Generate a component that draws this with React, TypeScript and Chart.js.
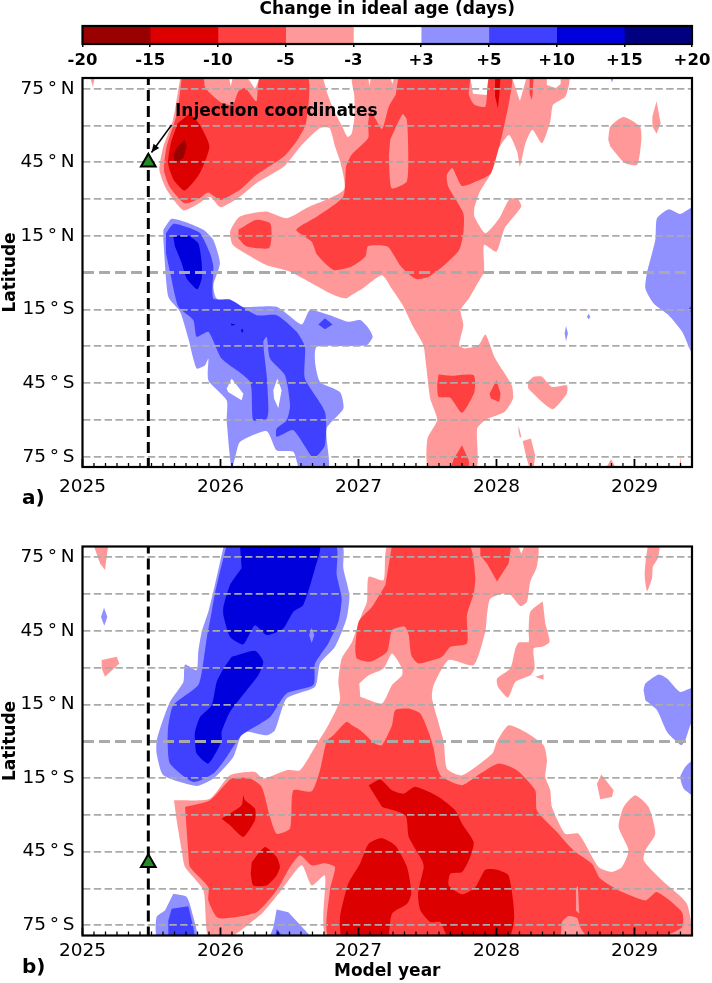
import React, { useEffect, useRef } from "react";
import { Chart, registerables } from "chart.js";

Chart.register(...registerables);

type P = [number, number];
const FONT = "'DejaVu Sans'";

const cbLabels = ["-20", "-15", "-10", "-5", "-3", "+3", "+5", "+10", "+15", "+20"];
const cbColors = ["#990000", "#dd0000", "#ff4040", "#ff9999", "#ffffff", "#9090ff", "#4040ff", "#0000dd", "#000080"];
const yearTicks = [2025, 2026, 2027, 2028, 2029];
const latTicks = [-75, -60, -45, -30, -15, 0, 15, 30, 45, 60, 75];
const latLabels: Record<string, string> = {
  "75": "75\u2009°\u2009N", "45": "45\u2009°\u2009N", "15": "15\u2009°\u2009N",
  "-15": "15\u2009°\u2009S", "-45": "45\u2009°\u2009S", "-75": "75\u2009°\u2009S",
};
const injectionYear = 2025.477;
const injectionLatA = 45;
const injectionLatB = -49.5;

const PINK = "#ff9999", R2 = "#ff4040", R3 = "#dd0000", R4 = "#990000";
const B1 = "#9090ff", B2 = "#4040ff", B3 = "#0000dd", WHITE = "#ffffff";

// ---------- panel a ----------
const aPinkMain: P[] = [[2025.71,80],[2025.67,66.4],[2025.646,60.3],[2025.586,51.5],[2025.557,42],[2025.61,33.8],[2025.731,25.4],[2025.827,27.7],[2025.924,31],[2026.0,26.7],[2026.14,31],[2026.26,36.5],[2026.46,43.3],[2026.58,51.5],[2026.72,59],[2026.79,59],[2026.83,51.5],[2026.87,44.7],[2026.895,33.8],[2026.62,26.3],[2026.48,22.2],[2026.33,25],[2026.14,22.9],[2026.07,16.8],[2026.09,11.3],[2026.24,5.9],[2026.33,3.2],[2026.5,0.5],[2026.82,-9.1],[2026.91,-10.5],[2026.95,-9.1],[2027.03,-6.4],[2027.17,-1],[2027.24,-6.4],[2027.32,-13.2],[2027.39,-21.4],[2027.47,-29.5],[2027.49,-37.7],[2027.52,-51.3],[2027.57,-60],[2027.5,-67.6],[2027.51,-80],[2027.85,-80],[2027.86,-63.5],[2027.92,-60],[2028.06,-56.7],[2028.12,-51.3],[2028.11,-45.8],[2027.99,-34.9],[2027.92,-25.2],[2027.87,-29.5],[2027.77,-30.9],[2027.73,-29.5],[2027.76,-21.4],[2027.74,-15.2],[2027.8,-10.5],[2027.87,-3.7],[2027.91,0.4],[2027.91,11.4],[2028.0,8.6],[2028.06,18.2],[2028.18,27],[2028.15,30.4],[2028.09,29.7],[2028.02,22.2],[2027.92,16.1],[2027.84,22.9],[2027.84,26.3],[2027.88,33.1],[2027.96,40.6],[2027.99,48.1],[2028.09,56.2],[2028.15,49.4],[2028.17,43.3],[2028.21,52.8],[2028.26,58.3],[2028.33,52.8],[2028.39,61.7],[2028.41,68.5],[2028.5,71.9],[2028.52,80],[2026.96,80],[2026.97,72.2],[2026.97,62.8],[2026.95,56.7],[2026.92,55.4],[2026.88,59.9],[2026.83,65.2],[2026.78,72.2],[2026.74,80]];
const aPinkCorner: P[] = [[2025.055,80],[2025.075,75.7],[2025.09,80]];
const aPinkBlob: P[] = [[2028.81,54.2],[2028.825,59.6],[2028.92,63.5],[2029.04,59.6],[2029.05,54.2],[2029.02,44],[2028.93,44.7],[2028.825,51.5]];
const aPinkSliver: P[] = [[2029.16,69.9],[2029.19,61],[2029.16,56.7],[2029.13,59.6],[2029.13,63.7]];
const aPinkSouth: P[] = [[2028.226,-44.5],[2028.27,-42.4],[2028.33,-42.4],[2028.4,-46.5],[2028.51,-45.9],[2028.51,-49.3],[2028.41,-55.6],[2028.33,-52.7],[2028.23,-47.2]];
const aPinkDrop: P[] = [[2028.16,-62.2],[2028.18,-66.9],[2028.17,-67.3],[2028.16,-64.9]];
const aPinkStrip: P[] = [[2028.19,-68.6],[2028.25,-67.6],[2028.28,-74.4],[2028.27,-80],[2028.24,-80],[2028.21,-73.7]];
const aPinkFoot1: P[] = [[2028.79,-80],[2028.83,-76],[2028.87,-80]];
const aPinkFoot2: P[] = [[2029.33,-75],[2029.345,-80],[2029.33,-80]];
const aWhite1: P[] = [[2026.19,80],[2026.25,75],[2026.29,80]];
const aWhite2: P[] = [[2027.81,80],[2027.83,73],[2027.93,72.5],[2027.945,80]];
const aWhite3: P[] = [[2028.11,80],[2028.17,70],[2028.22,80]];
const aWhite4: P[] = [[2028.365,80],[2028.365,76.5],[2028.43,75.3],[2028.465,77],[2028.465,80]];
const aWhite5: P[] = [[2026.06,80],[2026.075,76],[2026.09,80]];
const aWhite6: P[] = [[2027.07,80],[2027.08,76],[2027.09,80]];
const aWhite7: P[] = [[2027.23,80],[2027.245,77],[2027.26,80]];

const aRedBlob: P[] = [[2025.72,80],[2025.69,66.4],[2025.66,60.3],[2025.61,51.5],[2025.59,42],[2025.63,35.2],[2025.74,28.3],[2025.85,30.4],[2025.91,32.7],[2026.0,29.7],[2026.14,33.8],[2026.26,39.9],[2026.46,47.4],[2026.55,53.5],[2026.62,61],[2026.63,80],[2026.29,80],[2026.26,69.9],[2026.18,75.3],[2026.13,74],[2026.09,68.5],[2026.01,69.2],[2025.89,75.3],[2025.88,80]];
const aRedMain: P[] = [[2027.29,80],[2027.8,80],[2027.8,72.6],[2027.84,68.5],[2027.92,67.8],[2027.95,80],[2028.11,80],[2028.09,69.2],[2028.06,61],[2028.02,51.5],[2027.96,40.6],[2027.88,37.9],[2027.75,35.4],[2027.68,42.7],[2027.64,39.9],[2027.65,35.2],[2027.76,24.3],[2027.76,16.1],[2027.73,9.3],[2027.61,2.5],[2027.51,-1.6],[2027.42,-2.6],[2027.36,-0.3],[2027.3,3.1],[2027.27,5.9],[2027.21,10.7],[2027.07,10.9],[2027.05,6.6],[2026.95,2.5],[2026.82,1.1],[2026.7,7.3],[2026.66,12.7],[2026.55,17.5],[2026.7,22.9],[2026.89,31.1],[2026.91,43.3],[2026.95,48.1],[2027.07,54.9],[2027.07,61],[2027.09,65.8],[2027.17,58.6],[2027.22,67.8],[2027.27,72.6]];
const aRedLobe: P[] = [[2026.13,17.5],[2026.26,21.6],[2026.36,20.2],[2026.37,14.7],[2026.35,10],[2026.19,10.7],[2026.13,14]];
const aRedSliver: P[] = [[2028.24,80],[2028.27,80],[2028.26,72],[2028.255,70.5],[2028.24,73]];
const aRedSouth1: P[] = [[2027.58,-41.5],[2027.68,-42],[2027.835,-41.8],[2027.84,-48.6],[2027.75,-57.1],[2027.665,-51],[2027.58,-50.6],[2027.57,-45.9]];
const aRedSouth2: P[] = [[2028.0,-43.8],[2028.03,-49.3],[2028.02,-52.7],[2027.96,-51.3],[2027.95,-49.3]];
const aRedBottom: P[] = [[2027.75,-70.3],[2027.8,-76.5],[2027.8,-80],[2027.665,-80],[2027.69,-75.9]];
const aPinkIsland: P[] = [[2027.23,54.2],[2027.32,64.7],[2027.35,62.4],[2027.36,51.5],[2027.35,37.2],[2027.24,34.5],[2027.22,47.4]];
const aDarkBlob: P[] = [[2025.78,65],[2025.85,60.3],[2025.92,51.5],[2025.85,40.6],[2025.74,33.5],[2025.66,37.9],[2025.62,44.7],[2025.64,52.8],[2025.69,61]];
const aDarkColumn: P[] = [[2027.99,80],[2028.03,80],[2028.02,72],[2028.01,67],[2027.99,72]];
const aDeepBlob: P[] = [[2025.74,54.2],[2025.755,51.5],[2025.73,46.7],[2025.67,44.7],[2025.66,48],[2025.68,50.8]];

const aBlueMain: P[] = [[2025.586,17.5],[2025.646,22],[2025.755,20.5],[2025.876,17.5],[2025.948,13.4],[2025.996,3.9],[2025.948,-5],[2025.972,-10.5],[2026.153,-13.9],[2026.407,-13.9],[2026.588,-21.1],[2026.649,-15.2],[2026.793,-17.3],[2026.926,-20],[2027.013,-19.3],[2027.074,-22.7],[2027.103,-26.1],[2027.062,-29.5],[2026.953,-29.9],[2026.697,-30.2],[2026.685,-36.3],[2026.721,-44.5],[2026.866,-48.6],[2026.89,-55.4],[2026.769,-63.5],[2026.781,-80],[2026.576,-80],[2026.528,-73],[2026.407,-72.4],[2026.335,-64.6],[2026.141,-69],[2026.11,-74.4],[2026.081,-80],[2026.045,-60.1],[2026.045,-52],[2025.912,-43.8],[2025.912,-35],[2025.888,-37.7],[2025.827,-39],[2025.767,-26.8],[2025.707,-15.9],[2025.622,-9.8],[2025.586,13.4]];
const aBlueHole1: P[] = [[2026.045,-47.2],[2026.081,-43.1],[2026.166,-49.3],[2026.153,-52],[2026.055,-48.6]];
const aBlueHole2: P[] = [[2026.383,-47.9],[2026.412,-43.1],[2026.443,-47.9],[2026.419,-55.1],[2026.388,-51.3]];
const aBlueMid: P[] = [[2025.605,16.1],[2025.658,19.9],[2025.755,18.6],[2025.852,16.1],[2025.924,7.9],[2025.948,2.5],[2025.948,-10.5],[2026.069,-10.9],[2026.262,-17.3],[2026.407,-17.3],[2026.552,-24.1],[2026.612,-30.2],[2026.612,-43.1],[2026.757,-56.7],[2026.757,-70.3],[2026.673,-75.4],[2026.528,-64.2],[2026.407,-66.9],[2026.407,-63.5],[2026.48,-60.1],[2026.504,-54],[2026.467,-41.8],[2026.359,-35],[2026.335,-26.1],[2026.31,-28.2],[2026.335,-41.8],[2026.347,-55.4],[2026.335,-59.5],[2026.238,-60.1],[2026.214,-44.5],[2026.008,-35],[2025.912,-24.1],[2025.827,-26.1],[2025.803,-19.3],[2025.695,-13.9],[2025.634,0.4],[2025.605,7.9]];
const aBlueDiamond: P[] = [[2026.709,-21.1],[2026.757,-18.6],[2026.812,-21.1],[2026.757,-23]];
const aBlueCore: P[] = [[2025.658,14.7],[2025.755,15.4],[2025.839,12],[2025.864,3.9],[2025.864,-2.3],[2025.832,-6.7],[2025.755,-2.3],[2025.719,3.9],[2025.67,10.7]];
const aBlueDot1: P[] = [[2026.075,-20.7],[2026.11,-21.1],[2026.08,-21.6]];
const aBlueDot2: P[] = [[2026.157,-22.7],[2026.166,-23.7],[2026.157,-24.5],[2026.148,-23.7]];
const aBlueEast: P[] = [[2029.45,26.7],[2029.417,26.7],[2029.332,24],[2029.248,25.9],[2029.163,22.2],[2029.151,13.4],[2029.091,0],[2029.079,-6.4],[2029.139,-12.5],[2029.248,-17.3],[2029.345,-24],[2029.417,-32.9],[2029.45,-32.9]];
const aBlueEastCore: P[] = [[2029.45,-11.2],[2029.39,-15],[2029.45,-18]];
const aBlueTiny1: P[] = [[2028.668,-16.6],[2028.656,-18],[2028.668,-19],[2028.68,-18]];
const aBlueTiny2: P[] = [[2028.504,-21.6],[2028.494,-24.8],[2028.504,-27.9],[2028.518,-24.8]];
const aBlueTop: P[] = [[2028.825,80],[2028.837,77.6],[2028.854,80]];

// ---------- panel b ----------
const bPinkMain: P[] = [[2025.663,-24.1],[2025.924,-23.4],[2026.069,-13.9],[2026.25,-12.5],[2026.31,-15.2],[2026.479,-11.8],[2026.576,-11.8],[2026.685,-2.3],[2026.781,6.5],[2026.866,16.7],[2026.854,24.2],[2026.878,33.7],[2026.953,40.5],[2027.026,52.1],[2027.062,56.9],[2027.074,67.1],[2027.182,65.7],[2027.219,80],[2028.293,80],[2028.293,71.2],[2028.245,65],[2028.221,56.9],[2028.173,55.1],[2028.088,60.3],[2027.956,58.2],[2027.931,51.4],[2027.919,44.6],[2027.835,31],[2027.654,33.1],[2027.545,22.9],[2027.533,17.4],[2027.617,0],[2027.641,-11.2],[2027.751,-13.9],[2027.97,-5],[2028.004,0],[2028.088,6.5],[2028.209,3.8],[2028.342,-1.6],[2028.366,-7.8],[2028.354,-14.6],[2028.39,-20],[2028.402,-26.8],[2028.498,-37.7],[2028.595,-37.7],[2028.74,-51.3],[2028.837,-53.3],[2028.909,-51.3],[2028.957,-44.5],[2028.885,-35],[2028.921,-26.8],[2029.006,-22],[2029.103,-26.8],[2029.151,-37.7],[2029.079,-44.5],[2029.067,-48.6],[2029.199,-56.7],[2029.38,-66.3],[2029.392,-80],[2026.781,-80],[2026.757,-54.7],[2026.661,-58.8],[2026.588,-50.6],[2026.431,-61.5],[2026.31,-69.7],[2026.238,-73.1],[2026.069,-80],[2025.912,-80],[2025.876,-60.8],[2025.743,-51.3],[2025.719,-44.5],[2025.682,-32.2]];
const bWhitePocket: P[] = [[2027.006,23.5],[2027.074,26.9],[2027.182,29.7],[2027.243,35.8],[2027.316,29.7],[2027.316,26.9],[2027.243,22.9],[2027.17,15.4],[2027.013,18.1]];
const bWhiteNotch: P[] = [[2028.155,80],[2028.18,76.5],[2028.205,80]];
const bPinkEast: P[] = [[2028.335,57.1],[2028.245,52.8],[2028.233,44.6],[2028.233,40.5],[2028.161,40.3],[2028.137,37.8],[2028.1,29.7],[2028.004,25.6],[2028.011,22.2],[2028.083,17.8],[2028.137,24.2],[2028.245,26.9],[2028.277,29.7],[2028.269,37.8],[2028.33,38.5],[2028.385,40.5],[2028.354,48]];
const bPinkTiny: P[] = [[2028.281,26.3],[2028.341,27.3],[2028.341,25.1]];
const bPinkTop: P[] = [[2029.098,80],[2029.18,80],[2029.17,74.6],[2029.134,71.2],[2029.127,66.4],[2029.091,61.2],[2029.074,67.7],[2029.083,74.6]];
const bPinkCorner: P[] = [[2025.08,80],[2025.187,80],[2025.163,69.8],[2025.127,72.5]];
const bPinkSmall: P[] = [[2025.139,33.1],[2025.248,34.4],[2025.267,31.7],[2025.163,26.3],[2025.139,29.7]];
const bPinkSouth: P[] = [[2028.76,-13.6],[2028.849,-20],[2028.837,-22.7],[2028.752,-23.7],[2028.728,-17.3]];
const bRedNorth: P[] = [[2027.243,80],[2027.798,80],[2027.847,67.1],[2027.835,60.3],[2027.786,51.4],[2027.786,39.9],[2027.666,38.5],[2027.605,34.4],[2027.436,31.7],[2027.383,35.1],[2027.364,43.3],[2027.335,46.7],[2027.243,45.3],[2027.207,36.5],[2027.086,32.4],[2026.989,33.7],[2026.977,37.8],[2027.001,48.7],[2027.098,54.8],[2027.195,63.7]];
const bRedTop: P[] = [[2027.883,80],[2028.107,80],[2028.088,72.5],[2028.004,65.1],[2027.931,72.5],[2027.883,75.7]];
const bRedMain: P[] = [[2025.743,-26.8],[2025.924,-24.1],[2026.081,-15.2],[2026.214,-15.2],[2026.298,-18.6],[2026.359,-30.9],[2026.407,-37.7],[2026.504,-35.6],[2026.528,-20],[2026.661,-20.4],[2026.721,-11.8],[2026.769,0],[2026.818,2.4],[2026.914,7.9],[2026.953,6.5],[2027.013,4.5],[2027.122,-1],[2027.17,-1.6],[2027.243,6.5],[2027.267,12.7],[2027.364,13.3],[2027.448,11.3],[2027.508,3.8],[2027.545,-3],[2027.569,-10.5],[2027.605,-14.6],[2027.751,-17.9],[2027.883,-13.2],[2028.016,-9.1],[2028.148,-11.8],[2028.281,-20],[2028.293,-28.2],[2028.426,-36.3],[2028.559,-44.5],[2028.692,-49.9],[2028.752,-56],[2028.885,-60.8],[2029.079,-64.9],[2029.163,-61.5],[2029.345,-69.7],[2029.345,-75.8],[2029.175,-80],[2028.668,-80],[2028.608,-75.8],[2028.584,-72.1],[2028.523,-71.3],[2028.475,-73.7],[2028.455,-80],[2026.793,-80],[2026.793,-60.8],[2026.83,-51.3],[2026.757,-49.7],[2026.661,-50.6],[2026.576,-46.5],[2026.504,-51.3],[2026.407,-60.8],[2026.262,-69.7],[2025.984,-72.1],[2025.912,-64.9],[2025.912,-59.5],[2025.779,-51.3],[2025.767,-45.9]];
const bPinkCrack: P[] = [[2028.576,-60.1],[2028.59,-58.8],[2028.6,-70.3],[2028.576,-69]];
const bDark1: P[] = [[2026.008,-31.6],[2026.153,-26.1],[2026.165,-22],[2026.178,-24.1],[2026.25,-27.5],[2026.25,-32.2],[2026.165,-39],[2026.069,-34.3]];
const bDark2: P[] = [[2026.226,-49.3],[2026.322,-43.1],[2026.407,-47.2],[2026.431,-51.3],[2026.407,-54.7],[2026.335,-58.8],[2026.238,-58.8],[2026.219,-54]];
const bDark3: P[] = [[2027.074,-18],[2027.158,-15.6],[2027.243,-20],[2027.327,-21.4],[2027.412,-18.6],[2027.581,-22.7],[2027.702,-28.2],[2027.751,-33.6],[2027.835,-41.1],[2027.81,-47.2],[2027.751,-53.3],[2027.666,-54],[2027.654,-58.8],[2027.751,-62.4],[2027.847,-59.5],[2027.919,-52.4],[2028.004,-52.4],[2028.088,-54.7],[2028.129,-71],[2028.088,-80],[2027.654,-80],[2027.593,-73.7],[2027.521,-73.7],[2027.449,-69],[2027.431,-62.2],[2027.473,-51.3],[2027.461,-48.6],[2027.364,-39],[2027.34,-30.2],[2027.171,-26.8]];
const bDark4: P[] = [[2026.871,-80],[2026.866,-71.7],[2026.926,-58],[2027.011,-49.9],[2027.074,-41.8],[2027.171,-39.5],[2027.267,-42.5],[2027.352,-51.3],[2027.383,-62.2],[2027.352,-66.3],[2027.243,-70.3],[2027.219,-80]];
const bBlueMain: P[] = [[2026.025,80],[2026.878,80],[2026.89,70.5],[2026.934,59.6],[2026.914,50.1],[2026.83,38.5],[2026.721,31.7],[2026.685,22.2],[2026.479,17.4],[2026.395,4.5],[2026.335,2.4],[2026.165,3.8],[2026.093,-6.4],[2025.948,-15.2],[2025.827,-18.2],[2025.586,-13.9],[2025.537,-5],[2025.537,0],[2025.562,5.2],[2025.634,16.1],[2025.731,24.2],[2025.743,31.3],[2025.827,29],[2025.839,36.5],[2025.864,44.6],[2025.912,52.8],[2025.948,61]];
const bBlueMid: P[] = [[2026.045,80],[2026.83,80],[2026.842,67.8],[2026.878,58.2],[2026.854,48.7],[2026.781,39.9],[2026.685,31.7],[2026.673,22.9],[2026.479,19.5],[2026.359,9.9],[2026.153,2.4],[2026.045,-6.4],[2025.948,-13.2],[2025.803,-16.6],[2025.634,-9.1],[2025.617,0],[2025.622,6.5],[2025.658,14.7],[2025.839,22.9],[2025.876,32.4],[2025.9,41.9],[2025.936,52.8],[2025.96,60.3],[2025.996,69.1]];
const bBlueCoreN: P[] = [[2026.141,80],[2026.716,80],[2026.685,70.5],[2026.6,55.5],[2026.528,52.8],[2026.455,46],[2026.335,43.3],[2026.25,47.3],[2026.165,39.5],[2026.069,42.6],[2026.021,51.4],[2026.021,54.8],[2026.069,63.7],[2026.153,70.5]];
const bBlueCoreS: P[] = [[2026.081,34.4],[2026.25,36.9],[2026.31,32.4],[2026.274,26.9],[2026.19,20.8],[2026.069,12],[2026.008,3.8],[2026.008,0],[2025.912,-9.1],[2025.827,-5],[2025.815,0],[2025.815,3.8],[2025.852,9.9],[2025.936,14.7],[2025.972,24.2],[2026.021,29.7]];
const bBlueSpot: P[] = [[2026.661,46.3],[2026.68,43.3],[2026.661,40.1],[2026.642,43.3]];
const bBlueDrop: P[] = [[2025.156,54.4],[2025.18,50.7],[2025.158,47.1],[2025.134,50.7]];
const bBlueEast: P[] = [[2029.066,20.8],[2029.079,23.5],[2029.175,27.2],[2029.236,25.6],[2029.332,20.1],[2029.45,22.2],[2029.45,5],[2029.417,7.9],[2029.368,0.4],[2029.339,-1.6],[2029.236,3.8],[2029.163,12.7],[2029.079,16.7]];
const bBlueEast2: P[] = [[2029.45,-8],[2029.417,-8],[2029.368,-10.5],[2029.332,-14.6],[2029.356,-19.3],[2029.417,-22],[2029.45,-22]];
const bBlueSW: P[] = [[2025.658,-62.2],[2025.755,-63.5],[2025.803,-71.7],[2025.827,-80],[2025.543,-80],[2025.537,-71.7],[2025.598,-69]];
const bBlueSWCore: P[] = [[2025.646,-68.3],[2025.767,-67.3],[2025.803,-75.8],[2025.815,-80],[2025.622,-80],[2025.622,-73.1]];
const bBlueS: P[] = [[2026.354,-80],[2026.383,-75.8],[2026.407,-68.6],[2026.492,-69.7],[2026.661,-80]];
const bBlueSCore: P[] = [[2026.407,-76.5],[2026.455,-80],[2026.395,-80]];

type Layer = [string, P[]];
const layersA: Layer[] = [
  [PINK, aPinkMain], [PINK, aPinkCorner], [PINK, aPinkBlob], [PINK, aPinkSliver], [PINK, aPinkSouth],
  [PINK, aPinkDrop], [PINK, aPinkStrip], [PINK, aPinkFoot1], [PINK, aPinkFoot2],
  [WHITE, aWhite1], [WHITE, aWhite2], [WHITE, aWhite3], [WHITE, aWhite4], [WHITE, aWhite5], [WHITE, aWhite6], [WHITE, aWhite7],
  [R2, aRedBlob], [R2, aRedMain], [R2, aRedLobe], [R2, aRedSliver], [R2, aRedSouth1], [R2, aRedSouth2], [R2, aRedBottom],
  [PINK, aPinkIsland], [R3, aDarkBlob], [R3, aDarkColumn], [R4, aDeepBlob],
  [B1, aBlueMain], [WHITE, aBlueHole1], [WHITE, aBlueHole2], [B1, aBlueEast], [B1, aBlueTiny1], [B1, aBlueTiny2], [B1, aBlueTop],
  [B2, aBlueMid], [B2, aBlueDiamond], [B2, aBlueEastCore], [B3, aBlueCore], [B3, aBlueDot1], [B3, aBlueDot2],
];
const layersB: Layer[] = [
  [PINK, bPinkMain], [WHITE, bWhitePocket], [WHITE, bWhiteNotch], [PINK, bPinkEast], [PINK, bPinkTiny], [PINK, bPinkTop],
  [PINK, bPinkCorner], [PINK, bPinkSmall], [PINK, bPinkSouth],
  [R2, bRedNorth], [R2, bRedTop], [R2, bRedMain], [PINK, bPinkCrack],
  [R3, bDark1], [R3, bDark2], [R3, bDark3], [R3, bDark4],
  [B1, bBlueMain], [B1, bBlueDrop], [B1, bBlueEast], [B1, bBlueEast2], [B1, bBlueSW], [B1, bBlueS],
  [B2, bBlueMid], [B2, bBlueSWCore], [B2, bBlueSCore], [B3, bBlueCoreN], [B3, bBlueCoreS], [B1, bBlueSpot],
];

const frame = {
  id: "frame",
  afterDraw(chart: any) {
    const { ctx, chartArea: a } = chart;
    ctx.save();
    ctx.strokeStyle = "#000";
    ctx.lineWidth = 2.2;
    ctx.strokeRect(a.left, a.top, a.right - a.left, a.bottom - a.top);
    ctx.restore();
  },
};

const monthTicks = {
  id: "monthTicks",
  afterDatasetsDraw(chart: any) {
    const { ctx, chartArea: a, scales } = chart;
    ctx.save();
    ctx.strokeStyle = "#000";
    for (let m = 0; m <= 53; m++) {
      const px = scales.x.getPixelForValue(yearTicks[0] + m / 12);
      const major = m % 12 === 0;
      ctx.lineWidth = major ? 1.8 : 1.3;
      ctx.beginPath();
      ctx.moveTo(px, a.bottom);
      ctx.lineTo(px, a.bottom - (major ? 8 : 4));
      ctx.stroke();
    }
    ctx.restore();
  },
};

const annotation = {
  id: "annotation",
  afterDatasetsDraw(chart: any) {
    const { ctx, scales } = chart;
    const p = (x: number, y: number) => [scales.x.getPixelForValue(x), scales.y.getPixelForValue(y)];
    const [x0, y0] = p(2025.646, 60.3);
    const [x1, y1] = p(2025.5, 49);
    ctx.save();
    ctx.strokeStyle = "#000";
    ctx.fillStyle = "#000";
    ctx.lineWidth = 1.6;
    ctx.beginPath();
    ctx.moveTo(x0, y0);
    ctx.lineTo(x1, y1);
    ctx.stroke();
    const t = Math.atan2(y1 - y0, x1 - x0);
    ctx.beginPath();
    ctx.moveTo(x1, y1);
    ctx.lineTo(x1 - 9 * Math.cos(t - 0.4), y1 - 9 * Math.sin(t - 0.4));
    ctx.lineTo(x1 - 9 * Math.cos(t + 0.4), y1 - 9 * Math.sin(t + 0.4));
    ctx.closePath();
    ctx.fill();
    const [tx, ty] = p(2025.67, 65.6);
    ctx.font = `bold 17px ${FONT}`;
    ctx.textBaseline = "middle";
    ctx.textAlign = "left";
    ctx.fillText("Injection coordinates", tx, ty);
    ctx.restore();
  },
};

function panelConfig(layers: Layer[], injLat: number, padTop: number, xHeight: number, showXTitle: boolean, tickPad: number, plugins: any[]) {
  const polys = layers.map(([color, pts]) => ({
    type: "scatter",
    data: pts.map(([x, y]) => ({ x, y })),
    showLine: true,
    fill: "shape",
    backgroundColor: color,
    borderWidth: 0,
    pointRadius: 0,
    pointHoverRadius: 0,
    tension: pts.length > 6 ? 0.2 : 0,
  }));
  polys.reverse();
  return {
    type: "scatter",
    data: {
      datasets: [
        {
          data: [{ x: injectionYear, y: injLat }],
          pointStyle: "triangle",
          pointRadius: 8.5,
          backgroundColor: "#228b22",
          borderColor: "#000",
          borderWidth: 2,
        },
        {
          data: [{ x: injectionYear, y: -80 }, { x: injectionYear, y: 80 }],
          showLine: true,
          borderColor: "#000",
          borderWidth: 3,
          borderDash: [11, 5],
          pointRadius: 0,
          fill: false,
        },
        ...polys,
      ],
    },
    options: {
      responsive: false,
      animation: false,
      events: [],
      layout: { padding: { top: padTop, right: 20, left: 0, bottom: 0 } },
      plugins: { legend: { display: false }, tooltip: { enabled: false }, filler: { drawTime: "beforeDraw", propagate: false } },
      scales: {
        x: {
          type: "linear",
          min: 2025,
          max: 2029.417,
          grid: { display: false },
          border: { display: false },
          afterBuildTicks: (s: any) => { s.ticks = yearTicks.map((value) => ({ value })); },
          afterFit: (s: any) => { s.height = xHeight; },
          ticks: {
            autoSkip: false,
            maxRotation: 0,
            padding: tickPad,
            color: "#000",
            font: { family: FONT, size: 18.5 },
            callback: (v: number) => String(v),
          },
          title: showXTitle
            ? { display: true, text: "Model year", color: "#000", font: { family: FONT, size: 17, weight: "bold" }, padding: { top: 0, bottom: 1 } }
            : { display: false },
        },
        y: {
          type: "linear",
          min: -79.2,
          max: 79.4,
          afterBuildTicks: (s: any) => { s.ticks = latTicks.map((value) => ({ value })); },
          afterFit: (s: any) => { s.width = 82.5; },
          grid: {
            drawTicks: false,
            color: "#aaaaaa",
            lineWidth: (c: any) => (c.tick && c.tick.value === 0 ? 3 : 1.8),
          },
          border: {
            display: false,
            dash: (c: any) => (c.tick && c.tick.value === 0 ? [11, 5] : [7.4, 3.4]),
          },
          ticks: {
            autoSkip: false,
            padding: 8,
            color: "#000",
            font: { family: FONT, size: 18.5 },
            callback: (v: number) => latLabels[String(v)] ?? "",
          },
          title: { display: true, text: "Latitude", color: "#000", font: { family: FONT, size: 17, weight: "bold" }, padding: 0 },
        },
      },
    },
    plugins,
  };
}

function colorbarConfig() {
  return {
    type: "bar",
    data: {
      labels: [""],
      datasets: cbColors.map((c) => ({ data: [1], backgroundColor: c, borderWidth: 0, barPercentage: 1, categoryPercentage: 1, stack: "cb" })),
    },
    options: {
      indexAxis: "y",
      responsive: false,
      animation: false,
      events: [],
      layout: { padding: { left: 82.5, right: 20, top: 0, bottom: 0 } },
      plugins: {
        legend: { display: false },
        tooltip: { enabled: false },
        title: {
          display: true,
          text: "Change in ideal age (days)",
          fullSize: false,
          color: "#000",
          font: { family: FONT, size: 17, weight: "bold", lineHeight: 1 },
          padding: { top: 1, bottom: 8 },
        },
      },
      scales: {
        x: {
          type: "linear",
          min: 0,
          max: 9,
          stacked: true,
          grid: { drawOnChartArea: false, tickLength: 3, color: "#000", lineWidth: 1.5 },
          border: { display: false },
          afterBuildTicks: (s: any) => { s.ticks = cbLabels.map((_, value) => ({ value })); },
          afterFit: (s: any) => { s.height = 26; s.paddingLeft = 0; s.paddingRight = 0; },
          ticks: {
            autoSkip: false,
            maxRotation: 0,
            padding: 4,
            color: "#000",
            font: { family: FONT, size: 16.5, weight: "bold" },
            callback: (v: number) => cbLabels[v],
          },
        },
        y: { stacked: true, display: false },
      },
    },
    plugins: [frame],
  };
}

function ChartCanvas({ top, height, build }: { top: number; height: number; build: () => any }) {
  const ref = useRef<HTMLCanvasElement | null>(null);
  useEffect(() => {
    const chart = new Chart(ref.current as HTMLCanvasElement, build());
    return () => chart.destroy();
  }, []);
  return <canvas ref={ref} width={712} height={height} style={{ position: "absolute", left: 0, top, display: "block" }} />;
}

const panelLabel: React.CSSProperties = { position: "absolute", left: 22, fontFamily: FONT, fontWeight: "bold", fontSize: 20, lineHeight: "22px", color: "#000" };

export default function App() {
  return (
    <div style={{ position: "absolute", left: 0, top: 0, width: 712, height: 983, background: "#fff", overflow: "hidden" }}>
      <ChartCanvas top={0} height={70} build={colorbarConfig} />
      <ChartCanvas top={50} height={465} build={() => panelConfig(layersA, injectionLatA, 28, 48, false, 1, [monthTicks, annotation, frame])} />
      <ChartCanvas top={520} height={463} build={() => panelConfig(layersB, injectionLatB, 26.5, 47.5, true, -3, [monthTicks, frame])} />
      <div style={{ ...panelLabel, top: 486 }}>a)</div>
      <div style={{ ...panelLabel, top: 955 }}>b)</div>
    </div>
  );
}
